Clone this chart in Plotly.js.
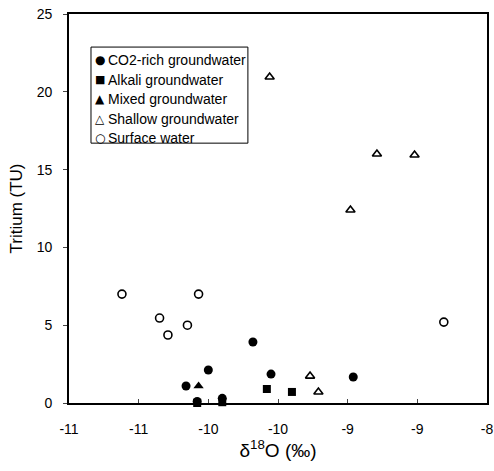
<!DOCTYPE html>
<html><head><meta charset="utf-8">
<script src="https://cdn.plot.ly/plotly-3.0.1.min.js"></script>
<style>body{margin:0;background:#fff}#c{width:494px;height:471px}</style>
</head><body><div id="c"></div>
<script>
const co2X = [-10.16, -10.00, -10.08, -9.90, -9.68, -9.55, -8.96];
const co2Y = [1.09, 2.12, 0.10, 0.30, 3.92, 1.86, 1.67];
const alkX = [-10.08, -9.90, -9.58, -9.40];
const alkY = [0.00, 0.05, 0.90, 0.71];
const mixX = [-10.07];
const mixY = [1.09];
const shallowX = [-9.56, -8.79, -8.52, -8.98, -9.27, -9.21];
const shallowY = [20.95, 16.0, 15.94, 12.4, 1.73, 0.71];
const surfX = [-10.62, -10.35, -10.29, -10.15, -10.07, -8.31];
const surfY = [7.0, 5.46, 4.37, 5.0, 7.0, 5.2];
const xTickVals = [-11, -10.5, -10, -9.5, -9, -8.5, -8];
const xTickText = ['-11', '-11', '-10', '-10', '-9', '-9', '-8'];
const yTickVals = [0, 5, 10, 15, 20, 25];
const names = ['CO2-rich groundwater', 'Alkali groundwater', 'Mixed groundwater', 'Shallow groundwater', 'Surface water'];
const legendGlyphs = ['\u25CF', '\u25A0', '\u25B2', '\u25B3', '\u25CB'];

function tr(x, y, name, symbol, size, open) {
  return {x: x, y: y, name: name, type: 'scatter', mode: 'markers', cliponaxis: false,
    marker: {symbol: symbol, size: size, color: open ? '#fff' : '#000',
      line: {color: '#000', width: open ? 1.6 : 0}}};
}
const data = [
  tr(co2X, co2Y, names[0], 'circle', 9, false),
  tr(alkX, alkY, names[1], 'square', 8, false),
  tr(mixX, mixY, names[2], 'triangle-up', 9, false),
  tr(shallowX, shallowY, names[3], 'triangle-up', 8, true),
  tr(surfX, surfY, names[4], 'circle', 8, true)
];

const legX0 = 0.0526, legX1 = 0.428, legY0 = 0.668, legY1 = 0.915;
const legRowsY = [0.882, 0.831, 0.782, 0.731, 0.681];
const annotations = [];
names.forEach((n, i) => {
  annotations.push({xref: 'paper', yref: 'paper', x: 0.0526 + 0.004, y: legRowsY[i], xanchor: 'left', yanchor: 'middle',
    text: legendGlyphs[i], showarrow: false, font: {size: i === 1 ? 11 : 12, family: 'DejaVu Sans', color: '#000'}});
  annotations.push({xref: 'paper', yref: 'paper', x: 0.0526 + 0.036, y: legRowsY[i], xanchor: 'left', yanchor: 'middle',
    text: n, showarrow: false, font: {size: 14, color: '#000'}});
});

const layout = {
  width: 494, height: 471,
  margin: {l: 69, r: 7, t: 14, b: 68},
  paper_bgcolor: '#fff', plot_bgcolor: '#fff',
  font: {family: 'Liberation Sans, Arial, sans-serif', color: '#000', size: 14},
  showlegend: false,
  shapes: [{type: 'rect', xref: 'paper', yref: 'paper', x0: legX0, x1: legX1, y0: legY0, y1: legY1,
    line: {color: '#000', width: 1}, fillcolor: 'rgba(255,255,255,0)'}],
  annotations: annotations,
  xaxis: {range: [-11, -8], tickvals: xTickVals, ticktext: xTickText, ticks: 'inside', ticklen: 4,
    showgrid: false, zeroline: false, showline: true, linecolor: '#000', linewidth: 1.8, mirror: true,
    tickfont: {size: 14, color: '#000'}, ticklabelstandoff: 12,
    title: {text: '\u03B4<sup>18</sup>O (\u2030)', font: {size: 19, color: '#000'}, standoff: 6}},
  yaxis: {range: [0, 25], tickvals: yTickVals, ticks: 'outside', ticklen: 4,
    showgrid: false, zeroline: false, showline: true, linecolor: '#000', linewidth: 1.8, mirror: true,
    tickfont: {size: 14, color: '#000'}, ticklabelstandoff: 8,
    title: {text: 'Tritium (TU)', font: {size: 17, color: '#000'}, standoff: 10}}
};
Plotly.newPlot('c', data, layout, {displayModeBar: false, staticPlot: true});
</script></body></html>
